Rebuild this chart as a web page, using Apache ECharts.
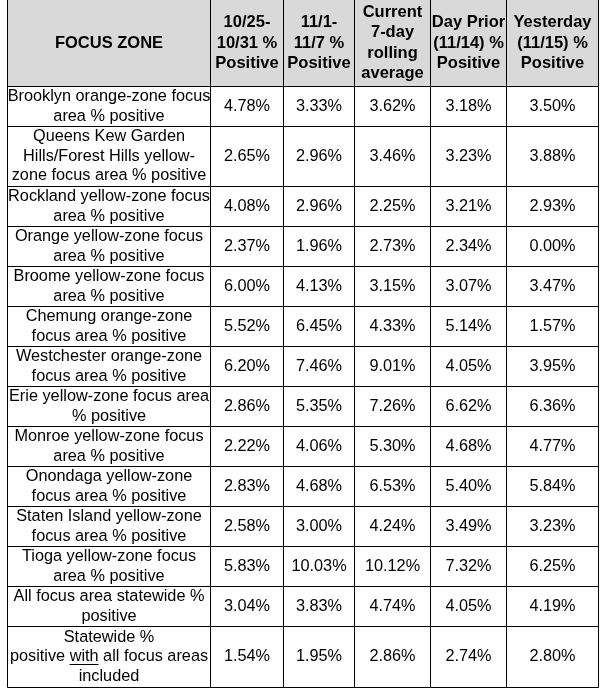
<!DOCTYPE html>
<html><head><meta charset="utf-8">
<script src="https://cdn.jsdelivr.net/npm/echarts@6/dist/echarts.min.js"></script>
<style>html,body{margin:0;padding:0;background:#fff}#c{width:604px;height:689px}</style>
</head><body><div id="c"></div>
<script>
// ---- data ----
const headers = [
  "FOCUS ZONE",
  "10/25-\n10/31 %\nPositive",
  "11/1-\n11/7 %\nPositive",
  "Current\n7-day\nrolling\naverage",
  "Day Prior\n(11/14) %\nPositive",
  "Yesterday\n(11/15) %\nPositive"
];
const zones = [
  "Brooklyn orange-zone focus\narea % positive",
  "Queens Kew Garden\nHills/Forest Hills yellow-\nzone focus area % positive",
  "Rockland yellow-zone focus\narea % positive",
  "Orange yellow-zone focus\narea % positive",
  "Broome yellow-zone focus\narea % positive",
  "Chemung orange-zone\nfocus area % positive",
  "Westchester orange-zone\nfocus area % positive",
  "Erie yellow-zone focus area\n% positive",
  "Monroe yellow-zone focus\narea % positive",
  "Onondaga yellow-zone\nfocus area % positive",
  "Staten Island yellow-zone\nfocus area % positive",
  "Tioga yellow-zone focus\narea % positive",
  "All focus area statewide %\npositive",
  "Statewide %\npositive with all focus areas\nincluded"
];
const underlinedWord = { row: 13, line: 1, prefix: "positive ", word: "with" };
const w1025     = [4.78, 2.65, 4.08, 2.37, 6.00, 5.52, 6.20, 2.86, 2.22, 2.83, 2.58, 5.83, 3.04, 1.54];
const w1101     = [3.33, 2.96, 2.96, 1.96, 4.13, 6.45, 7.46, 5.35, 4.06, 4.68, 3.00, 10.03, 3.83, 1.95];
const rolling   = [3.62, 3.46, 2.25, 2.73, 3.15, 4.33, 9.01, 7.26, 5.30, 6.53, 4.24, 10.12, 4.74, 2.86];
const dayPrior  = [3.18, 3.23, 3.21, 2.34, 3.07, 5.14, 4.05, 6.62, 4.68, 5.40, 3.49, 7.32, 4.05, 2.74];
const yesterday = [3.50, 3.88, 2.93, 0.00, 3.47, 1.57, 3.95, 6.36, 4.77, 5.84, 3.23, 6.25, 4.19, 2.80];
const valueColumns = [w1025, w1101, rolling, dayPrior, yesterday];

// ---- layout (table geometry in axis units) ----
const colEdges = [7, 210, 283, 354, 430, 506, 598];
const rowEdges = [-1, 86, 126, 186, 226, 266, 306, 346, 386, 426, 466, 506, 546, 586, 626, 687];
const FAMILY = '"Liberation Sans", Arial, Helvetica, sans-serif';
const BODY_SIZE = 16.3, HEAD_SIZE = 16.5;
const BODY_LH = 19.5, HEAD_LH = 20.5;

const cells = [];
headers.forEach((h, c) => cells.push({ col: c, row: 0, text: h, header: true }));
zones.forEach((z, r) => {
  cells.push({ col: 0, row: r + 1, text: z, zoneIndex: r });
  valueColumns.forEach((arr, c) => cells.push({ col: c + 1, row: r + 1, text: arr[r].toFixed(2) + '%' }));
});

const mctx = document.createElement('canvas').getContext('2d');
mctx.font = BODY_SIZE + 'px ' + FAMILY;

function renderItem(params, api) {
  const cell = cells[params.dataIndex];
  const p0 = api.coord([colEdges[cell.col], rowEdges[cell.row]]);
  const p1 = api.coord([colEdges[cell.col + 1], rowEdges[cell.row + 1]]);
  const x = Math.round(p0[0]) + 0.5, y = Math.round(p0[1]) + 0.5;
  const w = Math.round(p1[0]) - Math.round(p0[0]);
  const h = Math.round(p1[1]) - Math.round(p0[1]);
  const cx = x + w / 2, cy = y + h / 2;
  const children = [
    { type: 'rect', shape: { x: x, y: y, width: w, height: h },
      style: { fill: cell.header ? '#d9d9d9' : '#ffffff', stroke: '#000', lineWidth: 1 } },
    { type: 'text', style: {
        x: cx, y: cy, text: cell.text, align: 'center', verticalAlign: 'middle',
        fontFamily: FAMILY, fontSize: cell.header ? HEAD_SIZE : BODY_SIZE,
        fontWeight: cell.header ? 'bold' : 'normal',
        lineHeight: cell.header ? HEAD_LH : BODY_LH, fill: '#000' } }
  ];
  if (cell.zoneIndex === underlinedWord.row) {
    const lines = cell.text.split('\n');
    const lineText = lines[underlinedWord.line];
    const full = mctx.measureText(lineText).width;
    const pre = mctx.measureText(underlinedWord.prefix).width;
    const ww = mctx.measureText(underlinedWord.word).width;
    const lineCy = cy + (underlinedWord.line - (lines.length - 1) / 2) * BODY_LH;
    const ux = cx - full / 2 + pre;
    const uy = Math.round(lineCy + 7) + 0.5;
    children.push({ type: 'line', shape: { x1: ux, y1: uy, x2: ux + ww, y2: uy },
      style: { stroke: '#000', lineWidth: 1 } });
  }
  return { type: 'group', children: children };
}

const chart = echarts.init(document.getElementById('c'), null, { renderer: 'canvas' });
chart.setOption({
  animation: false,
  backgroundColor: '#ffffff',
  grid: { left: 0, right: 0, top: 0, bottom: 0 },
  xAxis: { type: 'value', min: 0, max: 604, show: false },
  yAxis: { type: 'value', min: 0, max: 689, inverse: true, show: false },
  series: [{
    type: 'custom',
    clip: false,
    renderItem: renderItem,
    data: cells.map((c, i) => [c.col, c.row, i])
  }]
});
</script>
</body></html>
